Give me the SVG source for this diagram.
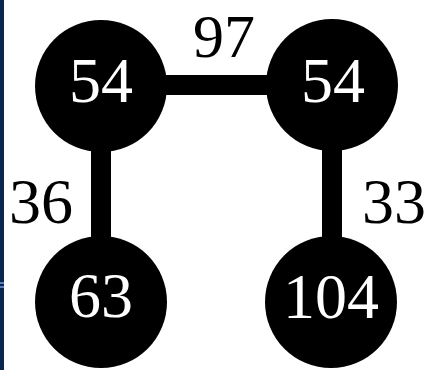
<svg xmlns="http://www.w3.org/2000/svg" width="429" height="370" viewBox="0 0 429 370">
<style>
.node circle{fill:#000}
.node text{fill:#fff;font-family:"Liberation Serif","Times New Roman",serif;font-size:64px;text-anchor:middle}
.edge{stroke:#000;stroke-width:20;fill:none}
.lbl{fill:#000;font-family:"Liberation Serif","Times New Roman",serif;font-size:64px;text-anchor:middle}
</style>
<rect width="429" height="370" fill="#fff"/>
<rect x="0" y="0" width="4" height="370" fill="#0c2550"/>
<rect x="0" y="282" width="4" height="2" fill="#5b7fc0"/>
<rect x="0" y="286" width="4" height="2" fill="#5b7fc0"/>
<g id="connectors">
<line class="edge" x1="101" y1="85" x2="332" y2="85"/>
<line class="edge" x1="101" y1="86" x2="101" y2="302"/>
<line class="edge" x1="332" y1="85" x2="332" y2="302"/>
<text class="lbl" x="224" y="57" style="font-size:62px">97</text>
<text class="lbl" x="41" y="223">36</text>
<text class="lbl" x="394" y="223">33</text>
</g>
<g id="n1" class="node"><circle cx="101" cy="86" r="66"/><text x="101" y="102">54</text></g>
<g id="n2" class="node"><circle cx="332" cy="85" r="66"/><text x="333" y="102">54</text></g>
<g id="n3" class="node"><circle cx="101" cy="302" r="66"/><text x="101" y="317">63</text></g>
<g id="n4" class="node"><circle cx="331" cy="302" r="66"/><text x="331" y="318">104</text></g>
</svg>
